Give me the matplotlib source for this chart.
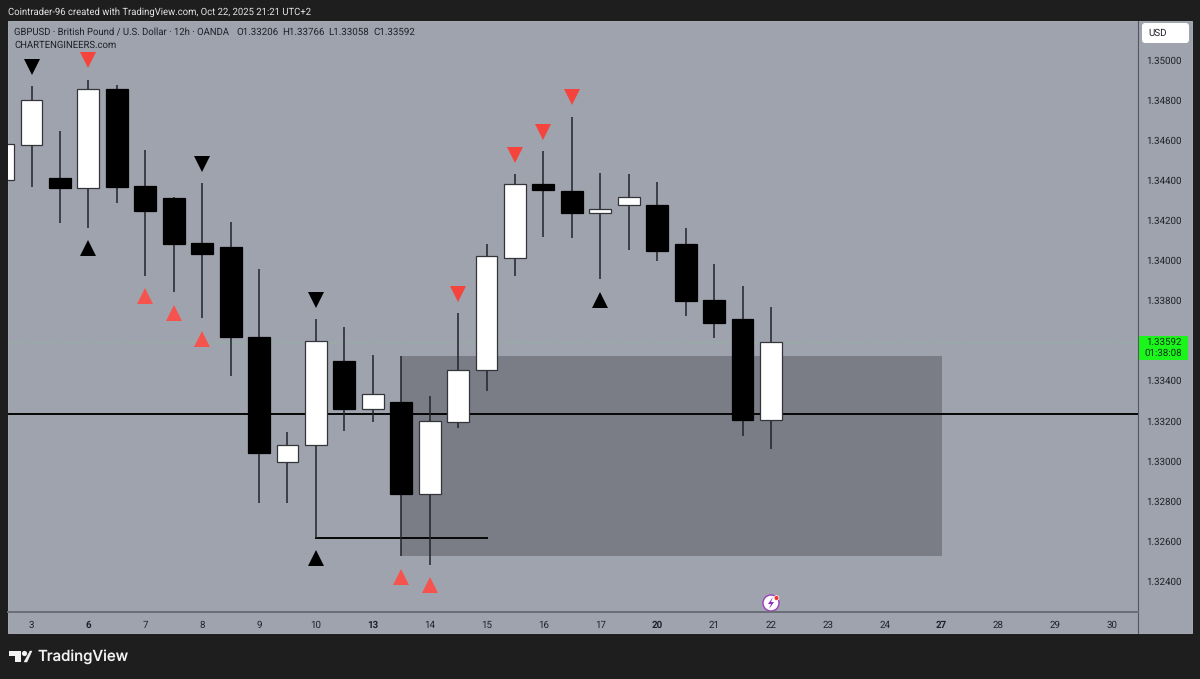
import matplotlib
matplotlib.use("Agg")
import matplotlib.pyplot as plt
from matplotlib.patches import Rectangle, Circle, Polygon, FancyBboxPatch

plt.rcParams['font.family'] = ['Roboto', 'DejaVu Sans']
plt.rcParams['text.hinting'] = 'no_hinting'

# velas 12h GBPUSD, la primera queda cortada por el borde izquierdo
opens = [1.34401, 1.34576, 1.34411, 1.34361, 1.34855, 1.34371, 1.34311, 1.34087, 1.34067, 1.33618,
         1.32994, 1.33079, 1.33498, 1.33258, 1.33293, 1.32834, 1.33194, 1.33453, 1.34012, 1.34381,
         1.34346, 1.34237, 1.34276, 1.34276, 1.34082, 1.33802, 1.33708, 1.33206]
highs = [1.34590, 1.34870, 1.34646, 1.34900, 1.34875, 1.34551, 1.34316, 1.34386, 1.34192, 1.33957,
         1.33144, 1.33708, 1.33668, 1.33528, 1.33523, 1.33323, 1.33738, 1.34082, 1.34431, 1.34546,
         1.34716, 1.34436, 1.34431, 1.34391, 1.34162, 1.33982, 1.33872, 1.33766]
lows = [1.34395, 1.34366, 1.34187, 1.34162, 1.34286, 1.33922, 1.33842, 1.33713, 1.33423, 1.32789,
        1.32789, 1.32615, 1.33149, 1.33194, 1.32525, 1.32480, 1.33164, 1.33348, 1.33922, 1.34117,
        1.34112, 1.33907, 1.34052, 1.33997, 1.33723, 1.33613, 1.33124, 1.33058]
closes = [1.34581, 1.34800, 1.34361, 1.34855, 1.34366, 1.34247, 1.34082, 1.34032, 1.33618, 1.33039,
          1.33079, 1.33598, 1.33258, 1.33333, 1.32834, 1.33199, 1.33453, 1.34022, 1.34381, 1.34351,
          1.34237, 1.34256, 1.34316, 1.34047, 1.33797, 1.33688, 1.33204, 1.33592]
first_bar = -1

# marcadores (indice de vela, precio)
down_black_x = [0, 6, 10]
down_black_y = [1.34965, 1.34481, 1.33802]
down_red_x = [2, 15, 17, 18, 19]
down_red_y = [1.35000, 1.33832, 1.34526, 1.34641, 1.34815]
up_black_x = [2, 10, 20]
up_black_y = [1.34062, 1.32515, 1.33802]
up_red_x = [4, 5, 6, 13, 14]
up_red_y = [1.33822, 1.33738, 1.33608, 1.32420, 1.32380]

# zona, nivel horizontal y linea corta
zone_start = 13
zone_end = 32
zone_top = 1.33523
zone_bottom = 1.32525
level = 1.33236
short_start = 10
short_end = 16
short_level = 1.32615
last_price = 1.33592

# 1.33600 queda tapado por la etiqueta verde
price_ticks = [1.35000, 1.34800, 1.34600, 1.34400, 1.34200, 1.34000, 1.33800,
               1.33400, 1.33200, 1.33000, 1.32800, 1.32600, 1.32400]
day_positions = [0, 2, 4, 6, 8, 10, 12, 14, 16, 18, 20, 22, 24, 26, 28, 30, 32, 34, 36, 38]
day_labels = ['3', '6', '7', '8', '9', '10', '13', '14', '15', '16', '17', '20', '21', '22',
              '23', '24', '27', '28', '29', '30']
bold_days = ['6', '13', '20', '27']
ohlc_labels = ['O1.33206', 'H1.33766', 'L1.33058', 'C1.33592']
ohlc_px = [236, 282, 328, 373]

W, H = 1200, 679
BG = '#1e1e1e'
PANEL = '#9fa3ad'
TXT = '#1f2128'
FS = 6.85
FS_NUM = 7.0

fig = plt.figure(figsize=(W / 100, H / 100), dpi=100, facecolor=BG)

# capa en pixeles para el marco, logo y etiquetas
chrome = fig.add_axes([0, 0, 1, 1])
chrome.set_xlim(0, W)
chrome.set_ylim(H, 0)
chrome.axis('off')
chrome.add_patch(Rectangle((8, 20.5), 1184, 612.5, fc=PANEL, ec='#b4b7be', lw=0.6))

# ejes del grafico, de pixeles a unidades
left, right, top, bottom = 8, 1138, 21, 612
px_per_bar = 28.44
x0 = 31.5
px_per_price = 40.08 / 0.002
ax = fig.add_axes([left / W, 1 - bottom / H, (right - left) / W, (bottom - top) / H])
ax.set_facecolor('none')
ax.set_xlim((left - x0) / px_per_bar, (right - x0) / px_per_bar)
ax.set_ylim(1.35 - (bottom - 60) / px_per_price, 1.35 + (60 - top) / px_per_price)

ax.add_patch(Rectangle((zone_start, zone_bottom), zone_end - zone_start, zone_top - zone_bottom,
                       fc='#7a7d86', ec='none', zorder=1))
ax.axhline(level, color='#050505', lw=1.4, zorder=2)
ax.axhline(last_price, color='#7fc98a', lw=0.7, ls=(0, (1, 2)), zorder=2)
ax.plot([short_start, short_end], [short_level, short_level], color='#050505', lw=1.4, zorder=2)

for i in range(len(opens)):
    idx = first_bar + i
    up = closes[i] >= opens[i]
    ax.vlines(idx, lows[i], highs[i], color='#22242a', lw=1.1, zorder=3)
    ax.bar(idx, abs(closes[i] - opens[i]), bottom=min(opens[i], closes[i]), width=0.77,
           color='#ffffff' if up else '#000000', edgecolor='#33353b' if up else '#000000',
           lw=0.9, zorder=4)

ax.plot(down_black_x, down_black_y, 'v', color='#000000', ms=11, mew=0, zorder=5)
ax.plot(down_red_x, down_red_y, 'v', color='#f5443d', ms=11, mew=0, zorder=5)
ax.plot(up_black_x, up_black_y, '^', color='#000000', ms=11, mew=0, zorder=5)
ax.plot(up_red_x, up_red_y, '^', color='#f5544e', ms=11, mew=0, zorder=5)

ax.yaxis.tick_right()
ax.set_yticks(price_ticks)
ax.set_yticklabels([f'{p:.5f}' for p in price_ticks], fontsize=FS_NUM, color=TXT)
ax.set_xticks(day_positions)
ax.set_xticklabels(day_labels, fontsize=FS_NUM, color=TXT)
for lab in ax.get_xticklabels():
    if lab.get_text() in bold_days:
        lab.set_fontweight('bold')
ax.tick_params(axis='y', length=0, pad=6)
ax.tick_params(axis='x', length=0, pad=6)
for side in ['top', 'left']:
    ax.spines[side].set_visible(False)
ax.spines['bottom'].set_color('#6b6e77')
ax.spines['bottom'].set_linewidth(1.4)
ax.spines['right'].set_color('#55575f')
ax.spines['right'].set_linewidth(0.8)
chrome.plot([1138, 1138], [612, 633], color='#55575f', lw=0.8)

# textos de cabecera
chrome.text(8, 12, 'Cointrader-96 created with TradingView.com, Oct 22, 2025 21:21 UTC+2',
            color='#e4e4e4', fontsize=FS, va='center', ha='left')
chrome.text(14, 32.5, 'GBPUSD · British Pound / U.S. Dollar · 12h · OANDA',
            color=TXT, fontsize=FS, va='center', ha='left')
for lab, px in zip(ohlc_labels, ohlc_px):
    chrome.text(px, 32.5, lab, color=TXT, fontsize=FS_NUM, va='center', ha='left')
chrome.text(14, 45, 'CHARTENGINEERS.com', color=TXT, fontsize=FS, va='center', ha='left')

# caja USD y etiqueta del ultimo precio
chrome.add_patch(FancyBboxPatch((1142, 23), 47, 20, boxstyle='round,pad=0,rounding_size=3',
                                fc='#ffffff', ec='none'))
chrome.text(1148, 33, 'USD', color=TXT, fontsize=FS_NUM, va='center', ha='left')
chrome.add_patch(Rectangle((1139, 336), 49, 24, fc='#1cf51c', ec='none'))
chrome.text(1163.5, 342.5, '1.33592', color='#10301a', fontsize=FS_NUM, va='center', ha='center')
chrome.text(1163.5, 353, '01:38:08', color='#10301a', fontsize=FS_NUM, va='center', ha='center')

# icono junto a la vela 22
chrome.add_patch(Circle((771, 603), 8, fc='#ffffff', ec='#9c3fc0', lw=1.0, zorder=6))
chrome.add_patch(Polygon([(773, 597), (768, 604), (771, 604), (769, 609), (774, 602), (771, 602)],
                         fc='#8a2fc0', ec='none', zorder=7))
chrome.add_patch(Circle((776.5, 598), 2.4, fc='#f0342c', ec='#ffffff', lw=0.5, zorder=8))

# logo TradingView
logo = '#f2f2f2'
chrome.add_patch(Polygon([(9, 651), (21, 651), (21, 662), (15, 662), (15, 656), (9, 656)], fc=logo, ec='none'))
chrome.add_patch(Circle((24.5, 653.5), 2.6, fc=logo, ec='none'))
chrome.add_patch(Polygon([(24, 662), (30, 651), (32, 651), (27, 662)], fc=logo, ec=logo, lw=0.3))
chrome.text(37, 656.5, 'TradingView', color=logo, fontsize=10.8, fontfamily='Inter', fontweight='medium', va='center', ha='left')

fig.savefig('out.png', dpi=100, facecolor=BG)
